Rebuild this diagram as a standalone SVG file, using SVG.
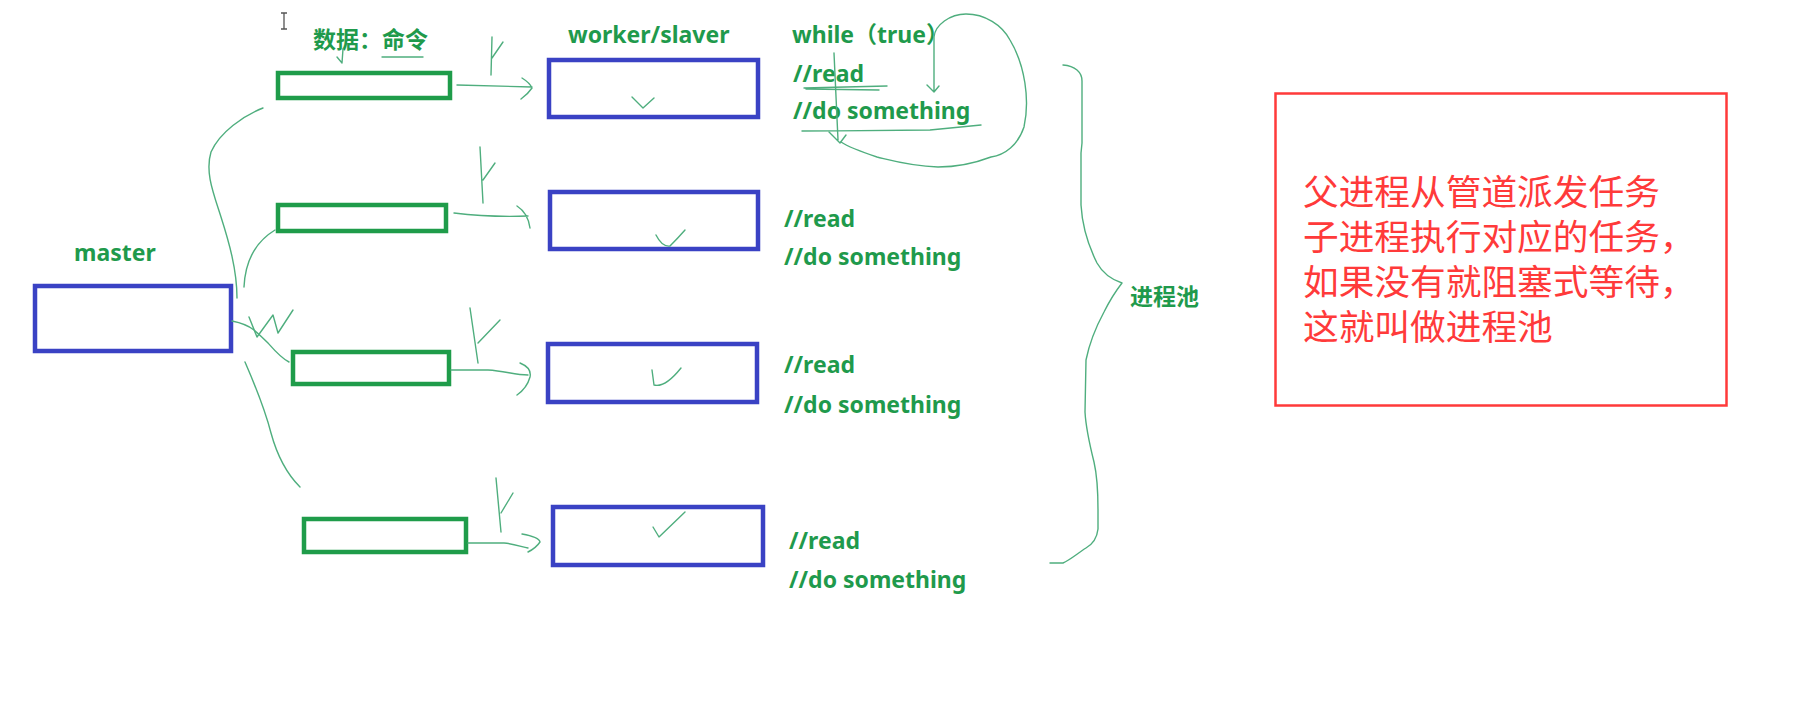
<svg xmlns="http://www.w3.org/2000/svg" width="1819" height="706" viewBox="0 0 1819 706">
<style>
  .lbl { font-family: "Noto Sans", "Noto Sans CJK SC", sans-serif; font-weight: bold; font-size: 23px; fill: #1f9a4c; }
  .note { font-family: "Liberation Sans", "Noto Sans CJK SC", sans-serif; font-size: 35.7px; fill: #ff3a3a; }
  .blue { fill: none; stroke: #3a42c4; stroke-width: 4.5; }
  .grn { fill: none; stroke: #1f9c4a; stroke-width: 4.5; }
  .hand { fill: none; stroke: #4fae7e; stroke-width: 1.4; stroke-linecap: round; stroke-linejoin: round; }
</style>
<rect x="0" y="0" width="1819" height="706" fill="#ffffff"/>

<g id="cursor">
  <path d="M281,13 L287,13 M284,13 L284,29 M281,29 L287,29" fill="none" stroke="#555" stroke-width="1.3"/>
</g>

<g id="master">
  <text class="lbl" x="74" y="261">master</text>
  <rect class="blue" x="35" y="286" width="196" height="65"/>
</g>

<g id="data-label">
  <text class="lbl" x="313" y="48">数据：命令</text>
</g>

<g id="pipe1"><rect class="grn" x="278" y="73" width="172" height="25"/></g>
<g id="pipe2"><rect class="grn" x="278" y="205" width="168" height="26"/></g>
<g id="pipe3"><rect class="grn" x="293" y="352" width="156" height="32"/></g>
<g id="pipe4"><rect class="grn" x="304" y="519" width="162" height="33"/></g>

<g id="worker1">
  <text class="lbl" x="568" y="43">worker/slaver</text>
  <rect class="blue" x="549" y="60" width="209" height="57"/>
</g>
<g id="worker2"><rect class="blue" x="550" y="192" width="208" height="57"/></g>
<g id="worker3"><rect class="blue" x="548" y="344" width="209" height="58"/></g>
<g id="worker4"><rect class="blue" x="553" y="507" width="210" height="58"/></g>

<g id="code1">
  <text class="lbl" x="792" y="43">while（true）</text>
  <text class="lbl" x="793" y="82">//read</text>
  <text class="lbl" x="793" y="119">//do something</text>
</g>
<g id="code2">
  <text class="lbl" x="784" y="227">//read</text>
  <text class="lbl" x="784" y="265">//do something</text>
</g>
<g id="code3">
  <text class="lbl" x="784" y="373">//read</text>
  <text class="lbl" x="784" y="413">//do something</text>
</g>
<g id="code4">
  <text class="lbl" x="789" y="549">//read</text>
  <text class="lbl" x="789" y="588">//do something</text>
</g>

<g id="pool">
  <path class="hand" d="M1063,65 C1075,66 1082,72 1082,81 L1082,143 L1081,153 L1081,205 C1082,222 1087,243 1097,263 C1102,272 1110,279 1122,283 C1115,292 1110,300 1104,312 C1097,325 1090,340 1086,360 L1085,412 C1086,430 1090,446 1094,462 C1097,475 1098,490 1098,510 L1098,529 C1097,538 1093,544 1086,548 C1078,553 1070,560 1063,563 L1050,563"/>
  <text class="lbl" x="1130" y="305">进程池</text>
</g>

<g id="note">
  <rect x="1275.5" y="93.5" width="451" height="312" fill="none" stroke="#ff3a3a" stroke-width="2.5"/>
  <text class="note" x="1303" y="205">父进程从管道派发任务</text>
  <text class="note" x="1303" y="250">子进程执行对应的任务，</text>
  <text class="note" x="1303" y="295">如果没有就阻塞式等待，</text>
  <text class="note" x="1303" y="340">这就叫做进程池</text>
</g>

<g id="connectors">
  <!-- master to pipes -->
  <path class="hand" d="M237,298 C237,270 229,242 221,217 C213,192 205,172 211,152 C220,132 243,116 263,108"/>
  <path class="hand" d="M244,287 C245,265 252,244 275,230"/>
  <path class="hand" d="M232,321 C242,323 249,326 254,330 C260,335 264,339 268,343 C275,351 281,358 289,362"/>
  <path class="hand" d="M249,317 L257,337 L273,315 L278,333 L293,310"/>
  <path class="hand" d="M245,362 C255,385 265,410 271,433 C277,455 285,472 300,487"/>
  <!-- pipes to workers -->
  <path class="hand" d="M457,85 L532,87 M522,78 Q530,83 532,88 Q528,94 521,99"/>
  <path class="hand" d="M492,37 L491,75 M492,58 L503,42"/>
  <path class="hand" d="M454,213 C470,215 500,217 528,216 M517,206 Q528,213 530,228"/>
  <path class="hand" d="M480,147 L483,203 M483,180 L495,163"/>
  <path class="hand" d="M451,370 L488,370 C505,371 515,375 528,375 M520,363 Q532,368 530,377 Q527,388 517,395"/>
  <path class="hand" d="M470,308 L478,363 M478,343 L500,320"/>
  <path class="hand" d="M468,543 L504,543 C515,544 522,547 528,548 M522,534 Q539,537 540,542 Q536,548 528,552"/>
  <path class="hand" d="M496,478 L501,532 M501,513 L513,493"/>
  <!-- check marks -->
  <path class="hand" d="M337,57 L342,63 L343,49"/>
  <path class="hand" d="M632,97 L643,108 L654,98"/>
  <path class="hand" d="M656,235 Q662,247 670,246 Q678,238 685,230"/>
  <path class="hand" d="M652,370 L654,385 Q665,388 681,368"/>
  <path class="hand" d="M653,527 L659,537 L685,512"/>
  <!-- underlines -->
  <path class="hand" d="M382,57 L423,57"/>
  <path class="hand" d="M804,88 L887,86 M806,89 L879,90"/>
  <path class="hand" d="M802,131 C850,131 910,130 930,130 L981,125"/>
  <!-- loop -->
  <path class="hand" d="M834,53 L838,140 M829,132 L840,143 L846,135"/>
  <path class="hand" d="M934,92 L934,37 C935,25 950,14 966,14 C985,14 1002,25 1010,40 C1025,65 1030,100 1024,127 C1018,145 1005,155 991,157 C970,165 955,167 938,167 C910,166 890,160 877,157 C862,152 850,148 841,142 M927,85 L934,92 L939,86"/>
</g>
</svg>
